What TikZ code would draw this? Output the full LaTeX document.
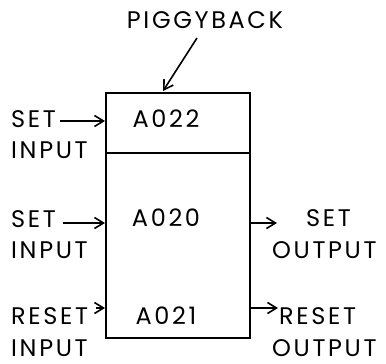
\documentclass[tikz,border=0pt]{standalone}
\usepackage{fontspec}
\setmainfont{Poppins}[LetterSpace=11]
\usetikzlibrary{arrows.meta,positioning,calc}
\tikzset{
  lbl/.style={font=\fontsize{24}{28}\selectfont,inner sep=0pt,anchor=base},
  lblw/.style={lbl,anchor=base west},
  chip/.style={draw,line width=1.6pt,minimum width=144pt,minimum height=245pt,anchor=north west,inner sep=0pt},
  sig/.style={-{Straight Barb[length=9pt,width=11pt,line width=1.6pt]},line width=1.6pt},
  divline/.style={line width=1.6pt}
}
\begin{document}
\begin{tikzpicture}[x=1pt,y=-1pt]
  \useasboundingbox (0,0) rectangle (386,364);
  % flip-flop block
  \node[chip] (blk) at (105,92) {};
  \coordinate (divw) at (105,153);
  \coordinate (dive) at (249,153);
  \draw[divline] (divw) -- (dive);
  \node[lbl] (a022) at (166,127) {A022};
  \node[lbl] (a020) at (166,226) {A020};
  \node[lbl] (a021) at (166,324) {A021};
  % piggyback label
  \node[lbl] (pig) at (205,28) {PIGGYBACK};
  \coordinate (pigtip) at (163,91);
  \draw[sig] (197,38) -- (pigtip);
  % inputs
  \node[lblw] (setA) at (11,127) {SET};
  \node[lblw] (inA) at (11,158) {INPUT};
  \node[lblw] (setB) at (11,227) {SET};
  \node[lblw] (inB) at (11,258) {INPUT};
  \node[lblw] (rstB) at (11,324) {RESET};
  \node[lblw] (inC) at (11,356) {INPUT};
  \draw[sig] (60,121) -- (blk.west |- 0,121);
  \draw[sig] (63,223) -- (blk.west |- 0,223);
  \draw[sig] (96,308) -- (blk.west |- 0,308);
  % outputs
  \node[lblw] (setO) at (306,226) {SET};
  \node[lblw] (outA) at (272,258) {OUTPUT};
  \node[lblw] (rstO) at (279,324) {RESET};
  \node[lblw] (outB) at (272,356) {OUTPUT};
  \draw[sig] (blk.east |- 0,223) -- (277,223);
  \draw[sig] (blk.east |- 0,308) -- (278,308);
\end{tikzpicture}
\end{document}
